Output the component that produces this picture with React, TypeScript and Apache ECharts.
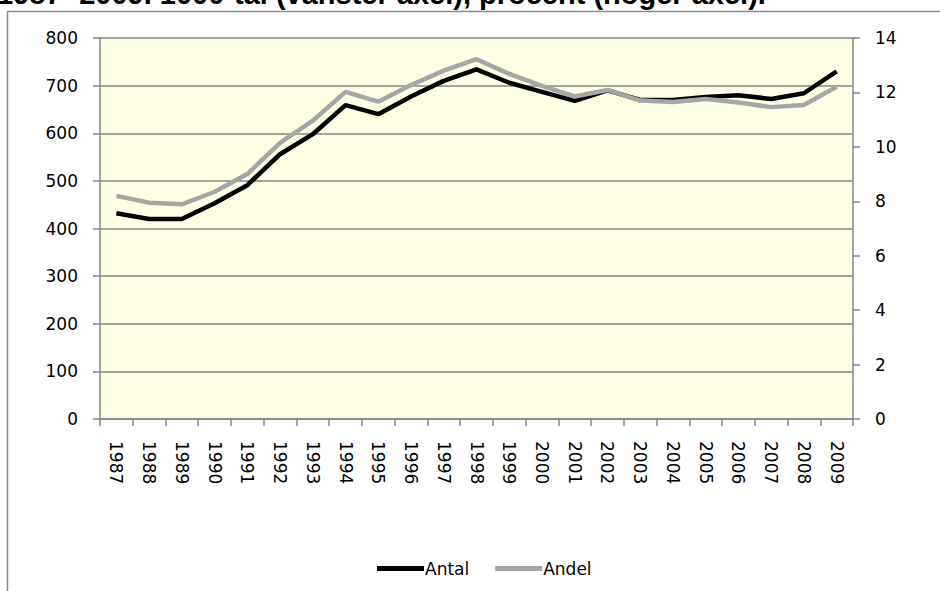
import React, { useEffect, useRef } from "react";
import * as echarts from "echarts";

const years = [
  "1987", "1988", "1989", "1990", "1991", "1992", "1993", "1994", "1995", "1996", "1997", "1998",
  "1999", "2000", "2001", "2002", "2003", "2004", "2005", "2006", "2007", "2008", "2009",
];
const antal = [432, 420, 420, 453, 491, 556, 598, 659, 640, 677, 710, 734, 706, 687, 668, 690, 670, 670, 676, 680, 672, 684, 730];
const andel = [8.2, 7.95, 7.89, 8.35, 9.0, 10.15, 10.96, 12.02, 11.66, 12.27, 12.8, 13.22, 12.68, 12.24, 11.85, 12.09, 11.7, 11.65, 11.76, 11.63, 11.46, 11.54, 12.21];
const leftTicks = { min: 0, max: 800, interval: 100 };
const rightTicks = { min: 0, max: 14, interval: 2 };
const titleText = "1987- 2009. 1000-tal (vänster axel), procent (höger axel).";

const AXIS_GRAY = "#868686";
const FONT = "DejaVu Sans";

export default function App() {
  const ref = useRef<HTMLDivElement>(null);
  useEffect(() => {
    document.body.style.margin = "0";
    const chart = echarts.init(ref.current!, null, { renderer: "svg" });
    chart.setOption({
      animation: false,
      backgroundColor: "#ffffff",
      textStyle: { fontFamily: FONT },
      graphic: [
        {
          type: "rect",
          shape: { x: 7.5, y: 11.5, width: 1000, height: 1000 },
          style: { fill: "none", stroke: "#8a8a8a", lineWidth: 1.5 },
          silent: true,
        },
        {
          type: "text",
          x: -3,
          y: 8,
          style: {
            text: titleText,
            font: "bold 29px 'Liberation Sans', Arial, sans-serif",
            fill: "#000",
            textVerticalAlign: "bottom",
            textAlign: "left",
          },
        },
      ],
      legend: {
        left: 372,
        top: 555,
        icon: "rect",
        itemWidth: 47,
        itemHeight: 5,
        itemGap: 26,
        textStyle: { fontFamily: FONT, fontSize: 17, color: "#000", padding: [0, 0, 0, -4] },
        data: ["Antal", "Andel"],
      },
      grid: {
        left: 100,
        right: 87,
        top: 38,
        bottom: 172,
        show: true,
        backgroundColor: "#FFFFE5",
        borderWidth: 0,
      },
      xAxis: {
        type: "category",
        data: years,
        boundaryGap: true,
        axisLine: { lineStyle: { color: AXIS_GRAY, width: 1.5 } },
        axisTick: { show: true, interval: 0, length: 7, lineStyle: { color: AXIS_GRAY, width: 1.5 } },
        axisLabel: { interval: 0, rotate: -90, margin: 22, fontFamily: FONT, fontSize: 17, color: "#000" },
      },
      yAxis: [
        {
          type: "value",
          min: leftTicks.min,
          max: leftTicks.max,
          interval: leftTicks.interval,
          axisLine: { show: true, lineStyle: { color: AXIS_GRAY, width: 1.5 } },
          axisTick: { show: true, length: 7, lineStyle: { color: AXIS_GRAY, width: 1.5 } },
          splitLine: { show: true, lineStyle: { color: AXIS_GRAY, width: 1.5 } },
          axisLabel: { margin: 22, fontFamily: FONT, fontSize: 17, color: "#000" },
        },
        {
          type: "value",
          position: "right",
          min: rightTicks.min,
          max: rightTicks.max,
          interval: rightTicks.interval,
          axisLine: { show: true, lineStyle: { color: AXIS_GRAY, width: 1.5 } },
          axisTick: { show: true, length: 7, lineStyle: { color: AXIS_GRAY, width: 1.5 } },
          splitLine: { show: false },
          axisLabel: { margin: 22, fontFamily: FONT, fontSize: 17, color: "#000" },
        },
      ],
      series: [
        {
          name: "Antal",
          type: "line",
          yAxisIndex: 0,
          data: antal,
          symbol: "none",
          color: "#000000",
          lineStyle: { color: "#000000", width: 4.5 },
        },
        {
          name: "Andel",
          type: "line",
          yAxisIndex: 1,
          data: andel,
          symbol: "none",
          color: "#A6A6A6",
          lineStyle: { color: "#A6A6A6", width: 4.5 },
        },
      ],
    });
    return () => chart.dispose();
  }, []);
  return <div ref={ref} style={{ width: 940, height: 591 }} />;
}
